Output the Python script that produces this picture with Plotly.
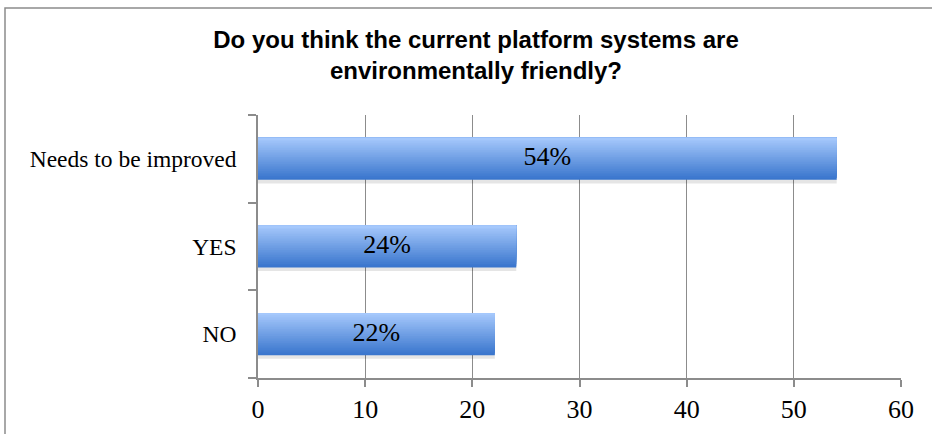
import plotly.graph_objects as go

categories = ["NO", "YES", "Needs to be improved"]
values = [22.1, 24.1, 54.0]
labels = ["22%", "24%", "54%"]
title_text = "Do you think the current platform systems are<br>environmentally friendly?"

top_rgb = (165, 200, 252)
bot_rgb = (58, 118, 205)

fig = go.Figure()

bar_w = 0.48
# soft shadow under bars
fig.add_trace(go.Bar(
    x=values, y=categories, orientation="h",
    width=bar_w, offset=-bar_w / 2 - 0.04,
    marker=dict(color="rgba(0,0,0,0.10)", line=dict(width=0)),
    hoverinfo="skip", showlegend=False,
))

n_layers = 24
for i in range(n_layers):
    t = i / (n_layers - 1)  # 0 bottom -> 1 top
    r = int(bot_rgb[0] + (top_rgb[0] - bot_rgb[0]) * t)
    g = int(bot_rgb[1] + (top_rgb[1] - bot_rgb[1]) * t)
    b = int(bot_rgb[2] + (top_rgb[2] - bot_rgb[2]) * t)
    off = -bar_w / 2 + i * bar_w / n_layers
    fig.add_trace(go.Bar(
        x=values, y=categories, orientation="h",
        width=bar_w / 2 - off,
        offset=off,
        marker=dict(color=f"rgb({r},{g},{b})", line=dict(width=0)),
        hoverinfo="skip", showlegend=False,
    ))

fig.add_trace(go.Scatter(
    x=[v / 2 for v in values], y=categories, mode="text", text=labels,
    textfont=dict(family="Liberation Serif, serif", size=26, color="black"),
    showlegend=False, hoverinfo="skip",
))

fig.update_layout(
    width=932, height=434,
    margin=dict(l=258, r=31, t=115, b=56, autoexpand=False),
    paper_bgcolor="white", plot_bgcolor="white",
    barmode="overlay",
    title=dict(text=title_text, x=476 / 932, xanchor="center", xref="container",
               y=1 - 48 / 434, yanchor="top", yref="container",
               font=dict(family="Liberation Sans, Arial, sans-serif", size=24, color="black", weight="bold")),
    xaxis=dict(range=[0, 60], dtick=10, tick0=0, showgrid=True, gridcolor="#8c8c8c", gridwidth=1,
               showline=True, linecolor="#8c8c8c", linewidth=1.5, ticks="outside", ticklen=7,
               tickcolor="#8c8c8c", tickwidth=1.5, automargin=False,
               tickfont=dict(family="Liberation Serif, serif", size=26, color="black"),
               ticklabelstandoff=0, zeroline=False, fixedrange=True),
    yaxis=dict(categoryorder="array", categoryarray=categories, range=[-0.5, 2.5],
               showline=True, linecolor="#8c8c8c", linewidth=1.5, ticks="outside", ticklen=8,
               tickson="boundaries", tickcolor="#8c8c8c", tickwidth=1.5, showgrid=False,
               automargin=False,
               tickfont=dict(family="Liberation Serif, serif", size=23.5, color="black"),
               ticklabelstandoff=15, fixedrange=True),
    shapes=[dict(type="rect", xref="paper", yref="paper",
                 x0=(5 - 258) / 643, x1=2, y0=-1, y1=1 + (115 - 8) / 263,
                 line=dict(color="#8c8c8c", width=1.5), fillcolor="rgba(0,0,0,0)", layer="below")],
)

fig.write_html("out.html", config={"displayModeBar": False},
               post_script="document.body.style.margin='0';document.body.style.padding='0';")
